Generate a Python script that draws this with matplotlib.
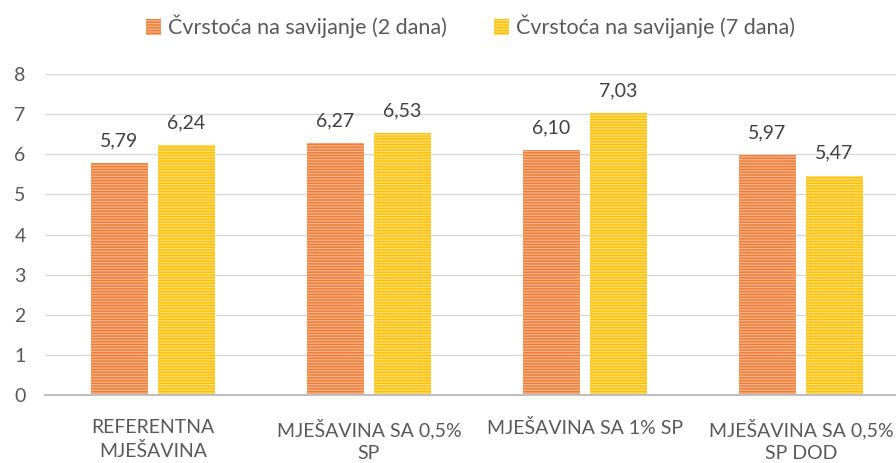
import matplotlib.pyplot as plt
import numpy as np

plt.rcParams['font.family'] = ['Lato', 'DejaVu Sans']
plt.rcParams['hatch.linewidth'] = 1.0

# --- data ---
categories = ["REFERENTNA\nMJEŠAVINA", "MJEŠAVINA SA 0,5%\nSP",
              "MJEŠAVINA SA 1% SP", "MJEŠAVINA SA 0,5%\nSP DOD"]
series_names = ["Čvrstoća na savijanje (2 dana)", "Čvrstoća na savijanje (7 dana)"]
vals_2d = [5.79, 6.27, 6.10, 5.97]
vals_7d = [6.24, 6.53, 7.03, 5.47]
yticks = [0, 1, 2, 3, 4, 5, 6, 7, 8]

colors = ["#ED7D31", "#FFC000"]
stripes = ["#F6B08A", "#FFDB70"]
txt = "#595959"

fig = plt.figure(figsize=(8.96, 4.63), dpi=100)
# axes runs past the right edge (the original is cropped there)
ax = fig.add_axes([45 / 896, 68 / 463, 864 / 896, 321 / 463])

x = np.arange(len(categories))
w = 0.26
off = 0.155
for i, vals in enumerate([vals_2d, vals_7d]):
    pos = x - off if i == 0 else x + off
    bars = ax.bar(pos, vals, w, color=colors[i], edgecolor=stripes[i],
                  hatch="------", linewidth=0, label=series_names[i], zorder=3)
    for b, v in zip(bars, vals):
        ax.annotate(f"{v:.2f}".replace(".", ","), (b.get_x() + b.get_width() / 2, v),
                    xytext=(0, 12), textcoords="offset points", ha="center", va="baseline",
                    fontsize=14, color="#404040")

ax.set_xlim(-0.5, 3.5)
ax.set_ylim(0, 8)
ax.set_yticks(yticks)
ax.set_yticklabels([str(t) for t in yticks])
ax.set_xticks(x)
ax.set_xticklabels(categories, linespacing=1.4)
ax.tick_params(axis="y", length=0, pad=14, labelsize=14, labelcolor=txt)
ax.tick_params(axis="x", length=0, pad=17, labelsize=14, labelcolor=txt)
ax.grid(axis="y", color="#D9D9D9", linewidth=1, zorder=0)
for s in ["top", "right", "left"]:
    ax.spines[s].set_visible(False)
ax.spines["bottom"].set_color("#BFBFBF")
ax.spines["bottom"].set_linewidth(1.5)
ax.spines["bottom"].set_zorder(4)

fig.legend(loc="upper center", bbox_to_anchor=(0.525, 1.01), ncol=2, frameon=False,
           fontsize=15.5, labelcolor=txt, handlelength=0.7, handleheight=0.75,
           handletextpad=0.3, columnspacing=2.2)

fig.savefig("out.png", dpi=100)
